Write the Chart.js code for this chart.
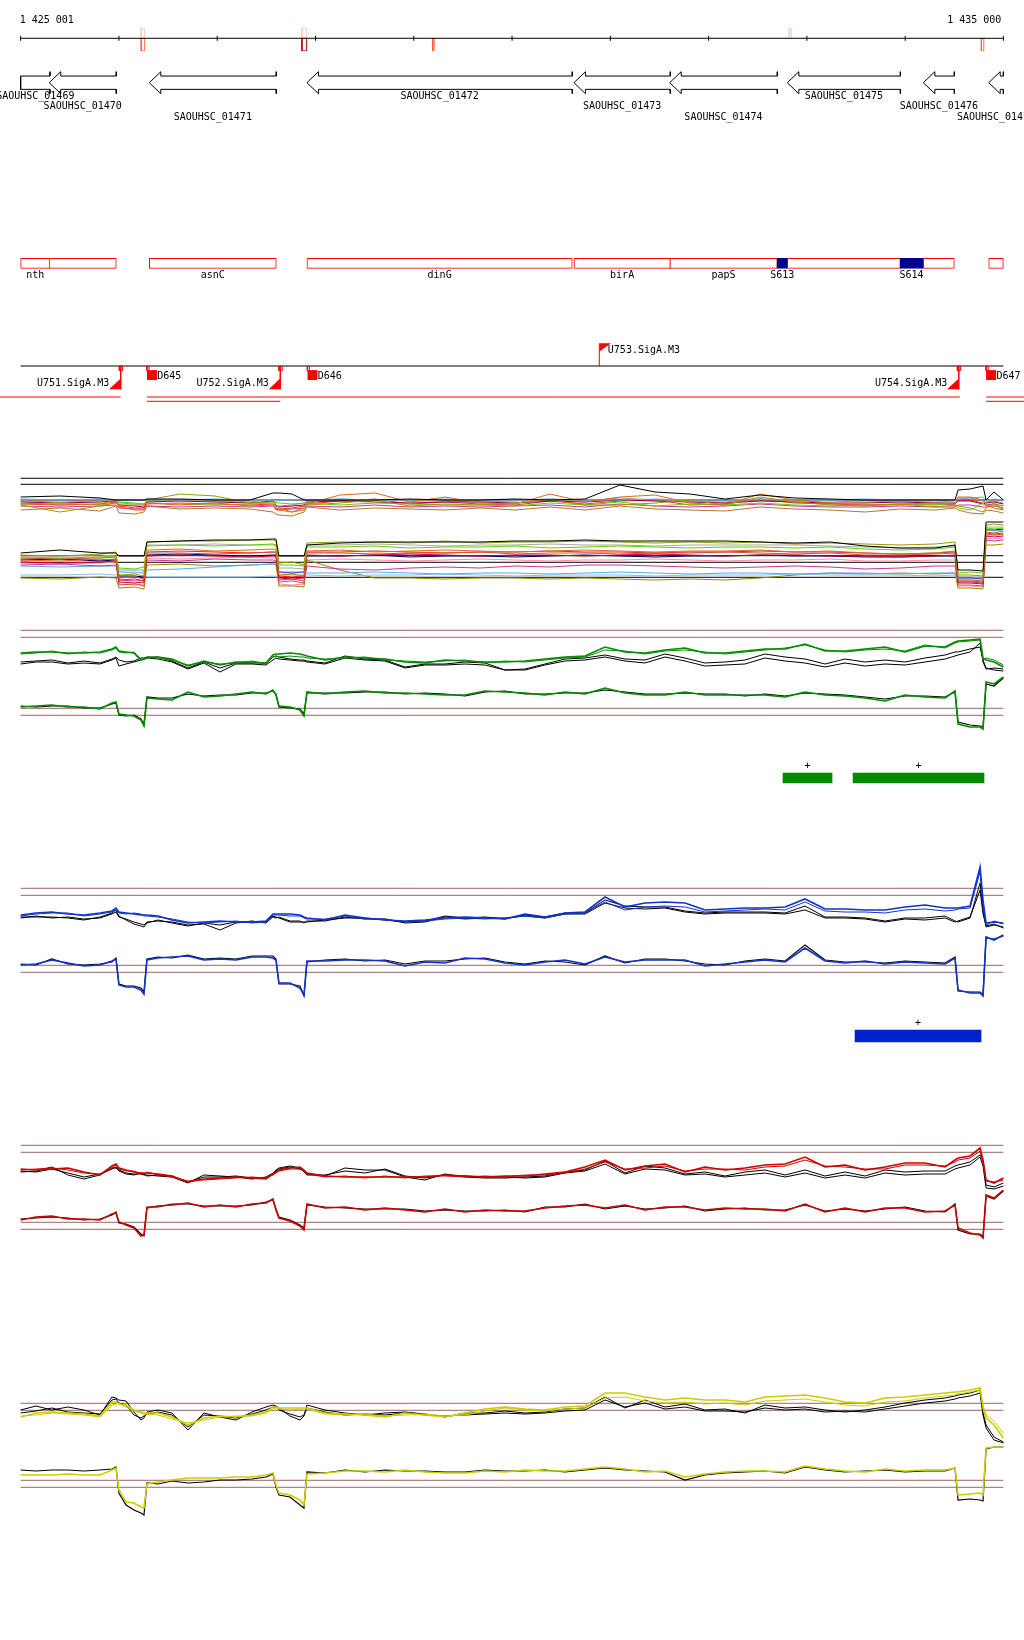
<!DOCTYPE html>
<html>
<head>
<meta charset="utf-8">
<title>SAOUHSC_01469 - SAOUHSC_01477</title>
<script src="https://cdn.jsdelivr.net/npm/chart.js@4.4.1/dist/chart.umd.min.js"></script>
<style>
  html, body { margin: 0; padding: 0; background: #ffffff; }
  #page { position: relative; width: 1024px; height: 1640px; overflow: hidden; }
  .track { position: absolute; left: 0; width: 1024px; }
</style>
</head>
<body>
<div id="page">
  <div class="track" style="top:0px;height:60px"><canvas id="ruler"></canvas></div>
  <div class="track" style="top:60px;height:70px"><canvas id="genes"></canvas></div>
  <div class="track" style="top:245px;height:40px"><canvas id="names"></canvas></div>
  <div class="track" style="top:335px;height:75px"><canvas id="promoters"></canvas></div>
  <div class="track" style="top:470px;height:125px"><canvas id="expr"></canvas></div>
  <div class="track" style="top:620px;height:120px"><canvas id="green"></canvas></div>
  <div class="track" style="top:758px;height:40px"><canvas id="greenSeg"></canvas></div>
  <div class="track" style="top:860px;height:140px"><canvas id="blue"></canvas></div>
  <div class="track" style="top:1016px;height:40px"><canvas id="blueSeg"></canvas></div>
  <div class="track" style="top:1140px;height:105px"><canvas id="red"></canvas></div>
  <div class="track" style="top:1380px;height:145px"><canvas id="yellow"></canvas></div>
</div>
<script>
// visible window of the genome
const VIEW_MIN = 1425001;
const VIEW_MAX = 1435000;
const X_MIN = VIEW_MIN - 210;
const X_MAX = VIEW_MAX + 210;
const MONO = '"DejaVu Sans Mono", "Liberation Mono", monospace';

// ruler
const rulerTicks = [1425001, 1426001, 1427001, 1428001, 1429001, 1430001, 1431001, 1432001, 1433001, 1434001, 1435000];
const markerStart = [1426228, 1427863, 1429194, 1432822, 1434776];
const markerEnd = [1426263, 1427911, 1429208, 1432843, 1434801];
const markerUp = ['#ffc8c0', '#ffc8c0', null, '#ffc8c0', null];
const markerDown = ['#ff6a4a', '#c00000', '#ff5a3a', null, '#ff6a4a'];

// genes (all on the minus strand)
const geneIds = ['SAOUHSC_01469', 'SAOUHSC_01470', 'SAOUHSC_01471', 'SAOUHSC_01472', 'SAOUHSC_01473', 'SAOUHSC_01474', 'SAOUHSC_01475', 'SAOUHSC_01476', 'SAOUHSC_01477'];
const geneNames = ['nth', '', 'asnC', 'dinG', 'birA', 'papS', '', '', ''];
const geneStart = [1424700, 1425292, 1426310, 1427914, 1430631, 1431605, 1432802, 1434186, 1434851];
const geneEnd = [1425299, 1425974, 1427602, 1430614, 1431611, 1432700, 1433952, 1434501, 1435300];

// small RNAs
const srnaNames = ['S613', 'S614'];
const srnaStart = [1432697, 1433949];
const srnaEnd = [1432802, 1434183];

// promoters and terminators
const promNames = ['U751.SigA.M3', 'U752.SigA.M3', 'U753.SigA.M3', 'U754.SigA.M3'];
const promPos = [1426019, 1427643, 1430889, 1434546];
const promStrand = [-1, -1, 1, -1];
const termNames = ['D645', 'D646', 'D647'];
const termPos = [1426286, 1427918, 1434824];
const tuStart = [X_MIN, 1426286, 1434824, 1426286, 1434824];
const tuEnd = [1426019, 1434556, X_MAX, 1427643, X_MAX];
const tuRow = [0, 0, 0, 1, 1];

// segments called per condition
const greenSegStart = [1432758, 1433471];
const greenSegEnd = [1433257, 1434803];
const blueSegStart = [1433491];
const blueSegEnd = [1434773];

// tiling expression, all conditions
const exprPos = [1425001, 1425401, 1425808, 1425971, 1426001, 1426164, 1426256, 1426286, 1426622, 1426978, 1427334, 1427568, 1427599, 1427629, 1427762, 1427884, 1427914, 1428250, 1428606, 1428962, 1429319, 1429675, 1430031, 1430387, 1430743, 1431099, 1431456, 1431812, 1432168, 1432524, 1432880, 1433236, 1433593, 1433949, 1434305, 1434508, 1434539, 1434661, 1434793, 1434824, 1434905, 1435000];
const exprRefs = [11.67, 11.07, 9.5, 3.93, 3.27, 1.77];
const exprUp1 = [9.8,9.9,9.7,9.5,9.5,9.5,9.5,9.6,9.6,9.5,9.5,10.2,10.2,10.2,10.1,9.5,9.5,9.5,9.5,9.6,9.5,9.5,9.6,9.5,9.6,11.0,10.3,10.1,9.6,10.0,9.7,9.6,9.5,9.5,9.5,9.5,10.5,10.6,10.9,9.5,10.3,9.5];
const exprUp2 = [9.0,8.3,8.9,9.2,9.0,9.0,9.0,9.5,10.1,9.9,9.2,9.3,9.0,8.7,8.3,8.5,9.0,9.2,9.5,8.9,9.1,9.0,9.2,9.5,9.0,9.0,9.2,9.5,9.0,9.8,9.3,9.0,8.9,9.1,8.8,9.0,8.9,8.7,8.3,8.7,9.2,8.5];
const exprUp3 = [9.2,9.0,9.1,9.5,8.8,8.5,8.5,9.2,9.0,9.2,8.9,9.0,8.5,8.5,8.3,8.7,9.1,10.0,10.2,9.3,9.8,9.2,9.1,10.1,9.3,9.8,10.0,9.2,9.0,10.1,9.5,9.2,9.0,9.1,9.2,9.0,9.8,9.8,9.5,9.0,8.7,8.5];
const exprUp4 = [9.1,9.2,9.0,9.2,9.3,9.2,9.1,9.2,9.1,9.0,9.1,9.2,9.3,9.2,9.1,9.2,9.2,9.0,9.2,9.1,9.0,9.0,8.9,9.2,9.0,9.3,8.9,9.1,9.0,9.2,9.0,8.9,9.0,9.0,9.1,9.0,8.7,8.5,9.2,8.9,9.0,8.6];
const exprUp5 = [9.6,9.5,9.6,9.5,9.4,9.5,9.5,9.6,9.5,9.6,9.5,9.5,9.4,9.5,9.5,9.6,9.5,9.6,9.5,9.5,9.6,9.5,9.5,9.6,9.5,9.5,9.6,9.5,9.5,9.6,9.5,9.5,9.6,9.5,9.5,9.5,9.7,9.7,9.8,9.4,9.6,9.5];
const exprUp6 = [8.9,8.8,8.9,9.0,8.7,8.6,8.6,8.9,8.8,8.9,8.8,8.9,8.6,8.5,8.6,8.7,8.9,8.8,9.0,8.8,8.9,8.8,8.9,9.0,8.8,9.1,8.9,8.8,8.9,9.1,8.9,8.8,8.8,8.9,8.8,8.8,9.0,9.0,8.8,8.8,8.9,8.7];
const exprUp7 = [9.3,9.2,9.3,9.4,9.0,8.9,8.8,9.3,9.4,9.3,9.2,9.4,8.9,8.8,8.9,9.0,9.3,9.4,9.3,9.2,9.3,9.3,9.2,9.4,9.3,9.5,9.4,9.3,9.2,9.4,9.3,9.2,9.2,9.3,9.2,9.2,9.4,9.4,9.1,9.2,9.3,9.1];
const exprUp8 = [8.5,8.7,8.4,8.9,8.2,8.1,8.3,8.9,8.6,8.7,8.6,8.3,8.1,8.0,7.9,8.3,8.8,8.5,8.7,8.6,8.5,8.7,8.5,8.8,8.5,8.9,8.6,8.5,8.4,8.8,8.6,8.5,8.3,8.6,8.5,8.7,8.5,8.2,8.1,8.5,8.4,8.2];
const exprUp9 = [9.4,9.3,9.4,9.5,9.2,9.1,9.1,9.4,9.5,9.4,9.3,9.6,9.0,8.9,9.0,9.2,9.4,9.6,9.5,9.4,9.4,9.3,9.4,9.6,9.4,9.7,9.5,9.4,9.3,9.6,9.4,9.4,9.3,9.4,9.3,9.4,9.6,9.7,9.4,9.3,9.4,9.2];
const exprUp10 = [9.1,9.0,9.1,9.3,8.9,8.7,8.7,9.1,9.2,9.1,9.0,9.1,8.7,8.6,8.7,8.9,9.1,9.4,9.6,9.1,9.3,9.1,9.0,9.4,9.1,9.4,9.5,9.0,9.1,9.6,9.2,9.1,9.0,9.1,9.0,9.1,9.5,9.5,9.2,9.0,9.1,8.9];
const exprLow1 = [4.2,4.5,4.2,4.2,3.9,3.9,3.9,5.3,5.4,5.5,5.5,5.6,5.6,3.9,3.9,3.9,5.0,5.2,5.3,5.3,5.3,5.3,5.4,5.4,5.5,5.4,5.4,5.4,5.4,5.3,5.2,5.3,4.9,4.7,4.7,5.0,2.5,2.5,2.4,7.3,7.3,7.3];
const exprLow2 = [4.0,3.9,4.1,4.3,2.0,2.1,1.9,5.3,5.4,5.4,5.5,5.5,5.4,3.2,3.3,3.0,5.2,5.3,5.3,5.2,5.4,5.2,5.3,5.3,5.4,5.3,5.2,5.3,5.2,5.3,5.1,5.2,5.1,5.0,5.1,5.3,2.0,2.0,1.9,7.0,7.1,7.0];
const exprLow3 = [3.8,3.7,3.8,3.9,2.7,2.6,2.8,4.9,5.0,4.9,5.0,5.1,5.0,3.0,3.0,2.9,4.8,4.8,4.9,4.7,4.8,4.8,4.9,4.7,4.8,4.9,4.8,4.7,4.8,4.8,4.7,4.8,4.6,4.5,4.6,4.8,2.2,2.3,2.2,6.7,6.6,6.7];
const exprLow4 = [3.5,3.4,3.6,3.5,1.7,1.8,1.6,4.5,4.6,4.4,4.5,4.6,4.5,2.0,2.1,1.9,4.4,4.5,4.3,4.4,4.5,4.4,4.3,4.4,4.5,4.4,4.3,4.4,4.4,4.5,4.3,4.4,4.2,4.1,4.2,4.4,1.5,1.5,1.4,6.3,6.2,6.4];
const exprLow5 = [3.3,3.2,3.3,3.4,1.3,1.2,1.3,3.9,4.0,3.9,3.8,3.9,3.9,1.7,1.6,1.7,4.0,3.9,4.0,4.1,4.0,3.9,4.0,4.0,3.9,4.0,4.1,4.0,3.9,4.0,4.0,3.9,3.9,3.8,3.9,4.0,1.2,1.2,1.1,5.9,5.8,5.9];
const exprLow6 = [3.7,3.6,3.7,3.8,1.0,1.1,0.9,4.2,4.2,4.1,4.2,4.3,4.2,1.3,1.4,1.2,4.2,4.2,4.1,4.2,4.2,4.3,4.1,4.2,4.2,4.1,4.2,4.2,4.3,4.2,4.1,4.2,4.0,4.0,4.1,4.2,1.0,1.0,0.9,6.1,6.0,6.1];
const exprLow7 = [3.0,3.1,2.9,3.0,1.5,1.4,1.5,3.5,3.4,3.6,3.5,3.5,3.4,1.5,1.6,1.4,2.9,2.6,2.5,2.7,2.8,2.7,2.9,2.8,3.0,3.0,2.9,2.8,2.7,2.8,2.9,2.8,2.6,2.7,2.9,2.9,1.3,1.3,1.2,5.5,5.4,5.5];
const exprLow8 = [2.9,2.8,2.9,2.9,2.5,2.5,2.5,2.5,2.6,2.8,3.0,3.1,3.1,2.3,2.3,2.3,2.2,2.2,2.3,2.2,2.1,2.2,2.2,2.1,2.2,2.3,2.2,2.1,2.2,2.2,2.1,2.2,2.2,2.1,2.2,2.2,1.7,1.7,1.7,6.5,6.4,6.5];
const exprLow9 = [2.0,2.0,2.1,2.0,2.3,2.3,2.2,1.8,1.8,1.8,1.8,1.9,1.8,2.0,2.0,2.0,2.0,1.9,2.0,2.0,2.1,2.0,1.9,2.0,2.0,2.0,1.9,2.0,2.0,2.0,2.1,2.0,2.0,2.0,1.9,2.0,1.5,1.5,1.5,6.0,6.0,6.0];
const exprLow10 = [1.7,1.6,1.8,1.7,0.7,0.8,0.6,3.0,3.1,2.9,3.0,3.1,3.0,0.9,0.9,0.8,3.5,2.5,1.7,1.7,1.6,1.7,1.7,1.6,1.7,1.6,1.5,1.6,1.5,1.7,2.0,2.2,2.1,2.2,2.1,2.2,0.7,0.7,0.6,5.0,5.0,5.1];
const exprLow11 = [3.5,3.6,3.4,3.5,1.9,1.9,1.8,4.0,4.1,4.0,3.9,4.0,4.0,2.3,2.2,2.3,3.9,3.9,4.0,3.8,3.9,3.9,3.8,3.9,4.0,3.9,3.8,3.9,3.9,4.0,3.9,3.9,3.8,3.8,3.9,3.9,1.7,1.7,1.6,6.5,6.5,6.6];
const exprLow12 = [3.9,3.9,4.0,3.9,2.3,2.2,2.3,5.0,5.0,5.1,5.0,5.0,4.9,2.7,2.7,2.6,5.0,5.0,5.1,5.0,4.9,5.0,5.0,5.1,5.0,5.0,4.9,5.0,5.0,5.0,5.0,4.9,4.8,4.7,4.8,4.9,1.8,1.8,1.7,6.8,6.8,6.8];
const exprLow13 = [3.2,3.1,3.2,3.3,1.1,1.0,1.1,3.7,3.6,3.7,3.8,3.7,3.7,1.1,1.0,1.1,3.5,3.6,3.5,3.4,3.5,3.6,3.5,3.4,3.5,3.5,3.6,3.5,3.4,3.5,3.5,3.6,3.4,3.4,3.5,3.5,0.9,0.9,0.8,5.7,5.6,5.7];
const exprLow14 = [3.6,3.6,3.5,3.6,1.5,1.6,1.4,4.3,4.4,4.3,4.2,4.3,4.3,1.9,1.8,1.9,4.3,4.3,4.4,4.3,4.2,4.3,4.3,4.4,4.3,4.3,4.2,4.3,4.3,4.4,4.3,4.3,4.2,4.1,4.2,4.3,1.4,1.4,1.3,6.2,6.1,6.2];
const exprUpColors = ['#000000', '#999900', '#e0661a', '#66cc00', '#66aaee', '#cc3399', '#990033', '#b8742a', '#999999', '#ee3333'];
const exprLowColors = ['#000000', '#999900', '#66cc00', '#e0661a', '#cc0033', '#cc5533', '#cc3399', '#55aaee', '#88bbee', '#998800', '#000066', '#aaaaaa', '#ff88aa', '#ee2222'];

// per-condition profiles (upper = plus strand, lower = minus strand)
const condPos = [1425001, 1425157, 1425319, 1425482, 1425645, 1425808, 1425930, 1425971, 1426001, 1426073, 1426154, 1426225, 1426256, 1426286, 1426398, 1426541, 1426703, 1426866, 1427029, 1427192, 1427355, 1427497, 1427568, 1427599, 1427629, 1427741, 1427843, 1427884, 1427914, 1428098, 1428301, 1428505, 1428708, 1428912, 1429115, 1429319, 1429522, 1429726, 1429929, 1430133, 1430336, 1430540, 1430743, 1430947, 1431150, 1431354, 1431557, 1431761, 1431964, 1432168, 1432371, 1432575, 1432779, 1432982, 1433186, 1433389, 1433593, 1433796, 1433999, 1434203, 1434407, 1434508, 1434539, 1434661, 1434763, 1434793, 1434824, 1434905, 1435000];

const grnRefs = [10.97, 10.27, 3.17, 2.47];
const grnUp1 = [8.7,8.8,8.8,8.7,8.7,8.8,9.1,9.3,8.9,8.8,8.7,8.0,8.1,8.2,8.3,8.1,7.4,7.9,7.5,7.8,7.8,7.7,8.5,8.6,8.6,8.7,8.6,8.5,8.4,8.0,8.3,8.2,8.1,7.8,7.7,8.0,7.9,7.8,7.8,7.9,8.1,8.3,8.4,9.3,8.8,8.7,9.0,9.2,8.7,8.7,8.9,9.1,9.1,9.6,8.9,8.9,9.1,9.3,8.8,9.4,9.3,9.8,9.9,10.0,10.1,8.2,8.0,7.8,7.3];
const grnUp2 = [8.6,8.7,8.9,8.6,8.8,8.7,9.0,9.2,8.8,8.7,8.8,8.1,8.0,8.3,8.2,8.0,7.5,7.8,7.6,7.7,7.9,7.6,8.3,8.4,8.3,8.4,8.3,8.3,8.2,8.1,8.2,8.3,8.0,7.9,7.8,7.9,8.0,7.7,7.9,7.8,8.0,8.2,8.3,9.0,8.9,8.6,8.9,9.0,8.8,8.6,8.8,9.0,9.2,9.5,9.0,8.8,9.0,9.1,8.9,9.5,9.2,9.7,9.8,9.9,10.0,8.0,8.2,8.0,7.5];
const grnUpBlk1 = [7.8,7.9,8.0,7.7,7.9,7.7,8.1,8.3,8.0,7.8,7.9,8.2,8.2,8.3,8.3,7.9,7.2,7.8,7.2,7.7,7.7,7.7,8.3,8.4,8.3,8.1,8.0,8.0,7.9,7.7,8.4,8.1,8.0,7.3,7.6,7.6,7.8,7.7,7.0,7.1,7.6,8.1,8.2,8.5,8.1,8.0,8.6,8.2,7.7,7.8,8.0,8.6,8.3,8.1,7.6,8.1,7.8,8.0,7.8,8.2,8.5,8.8,8.8,9.1,9.3,8.0,7.2,7.0,6.9];
const grnUpBlk2 = [7.6,7.8,7.8,7.6,7.7,7.6,8.0,8.2,7.4,7.6,7.8,8.0,8.1,8.2,8.1,7.8,7.1,7.7,6.8,7.6,7.6,7.5,8.0,8.2,8.1,8.0,7.9,7.9,7.8,7.6,8.2,8.0,7.9,7.2,7.5,7.5,7.6,7.5,7.0,7.0,7.5,7.9,8.0,8.3,7.9,7.7,8.3,7.9,7.4,7.5,7.6,8.2,7.9,7.7,7.3,7.7,7.4,7.6,7.5,7.8,8.1,8.4,8.5,8.8,9.7,7.8,7.1,7.2,7.1];
const grnLow = [3.3,3.4,3.5,3.3,3.3,3.1,3.7,3.8,2.6,2.5,2.4,2.0,1.4,4.2,4.1,4.0,4.8,4.3,4.4,4.6,4.8,4.6,5.0,4.5,3.4,3.3,3.0,2.4,4.8,4.6,4.8,4.9,4.7,4.7,4.6,4.5,4.5,4.9,4.8,4.7,4.5,4.8,4.6,5.2,4.7,4.5,4.5,4.8,4.5,4.5,4.5,4.5,4.3,4.8,4.5,4.4,4.2,3.9,4.5,4.3,4.2,4.9,1.6,1.3,1.3,1.1,5.8,5.6,6.3];
const grnLowBlk = [3.4,3.3,3.4,3.4,3.2,3.2,3.6,3.7,2.5,2.4,2.5,2.1,1.6,4.3,4.2,4.2,4.6,4.4,4.5,4.5,4.7,4.7,4.9,4.6,3.3,3.2,3.1,2.6,4.7,4.7,4.7,4.8,4.8,4.6,4.7,4.6,4.4,4.8,4.9,4.6,4.6,4.7,4.7,5.0,4.8,4.6,4.6,4.7,4.6,4.6,4.4,4.6,4.4,4.7,4.6,4.5,4.3,4.1,4.4,4.4,4.3,4.8,1.8,1.5,1.4,1.3,5.6,5.4,6.2];

const bluRefs = [11.17, 10.47, 3.47, 2.77];
const bluUp1 = [8.5,8.7,8.8,8.6,8.5,8.7,8.9,9.2,8.8,8.7,8.6,8.5,8.5,8.5,8.4,8.0,7.7,7.8,7.9,7.8,7.8,7.9,8.6,8.6,8.6,8.6,8.5,8.3,8.2,8.0,8.5,8.2,8.0,7.9,8.0,8.2,8.3,8.2,8.1,8.6,8.3,8.7,8.8,10.3,9.3,9.7,9.8,9.7,9.0,9.1,9.2,9.2,9.3,10.1,9.1,9.1,9.0,9.0,9.3,9.5,9.2,9.2,9.2,9.4,13.3,10.0,7.7,7.8,7.7];
const bluUp2 = [8.4,8.6,8.7,8.7,8.4,8.6,8.8,9.0,8.7,8.6,8.7,8.6,8.4,8.4,8.3,8.1,7.8,7.7,7.8,7.9,7.7,7.8,8.5,8.5,8.5,8.4,8.4,8.2,8.1,8.1,8.4,8.1,8.1,7.8,7.9,8.1,8.2,8.1,8.2,8.4,8.2,8.6,8.7,9.8,9.0,9.3,9.4,9.3,8.8,8.9,9.0,9.1,9.0,9.8,8.9,8.8,8.8,8.7,9.0,9.1,8.9,9.0,9.1,9.2,12.8,9.4,7.5,7.9,7.6];
const bluUpBlk1 = [8.3,8.3,8.3,8.2,8.0,8.3,8.7,9.0,8.4,8.0,7.6,7.4,7.3,7.7,8.0,7.7,7.4,7.7,7.5,7.8,7.8,7.8,8.4,8.3,8.2,7.8,7.8,7.8,7.8,8.0,8.2,8.2,8.0,7.8,7.9,8.4,8.2,8.3,8.1,8.5,8.3,8.7,8.7,10.0,9.4,9.3,9.3,8.9,8.7,8.8,8.8,8.8,8.7,9.4,8.3,8.3,8.2,7.9,8.2,8.2,8.4,7.9,7.8,8.2,11.7,9.0,7.3,7.5,7.3];
const bluUpBlk2 = [8.2,8.4,8.2,8.3,8.1,8.2,8.6,8.8,8.3,8.1,7.8,7.6,7.5,7.8,7.9,7.8,7.5,7.6,7.0,7.7,7.9,7.7,8.3,8.2,8.3,7.9,7.9,7.7,7.9,7.9,8.3,8.1,8.1,7.7,7.8,8.3,8.1,8.2,8.2,8.4,8.2,8.6,8.6,9.7,9.2,9.1,9.2,8.8,8.6,8.7,8.7,8.7,8.6,9.0,8.2,8.2,8.1,7.8,8.1,8.0,8.2,7.8,7.9,8.3,11.0,8.6,7.4,7.6,7.2];
const bluLow = [3.5,3.6,4.0,3.7,3.4,3.5,3.9,4.1,1.5,1.3,1.3,1.0,0.6,4.0,4.2,4.3,4.4,4.0,4.1,4.0,4.3,4.3,4.2,4.0,1.7,1.7,1.2,0.5,3.9,3.9,4.0,4.0,3.9,3.4,3.8,3.7,4.2,4.1,3.7,3.5,3.8,4.0,3.6,4.3,3.8,4.0,4.0,4.0,3.4,3.6,3.8,4.0,3.8,5.2,3.9,3.7,3.9,3.6,3.8,3.7,3.6,4.2,1.0,0.7,0.7,0.4,6.3,6.0,6.5];
const bluLowBlk = [3.6,3.5,4.1,3.6,3.5,3.6,3.8,4.2,1.6,1.4,1.4,1.2,0.8,4.1,4.3,4.2,4.5,4.1,4.2,4.1,4.4,4.4,4.4,4.1,1.6,1.6,1.4,0.4,3.8,4.0,4.1,3.9,4.0,3.6,3.9,3.9,4.1,4.2,3.8,3.6,3.9,3.8,3.5,4.4,3.7,4.1,4.1,3.9,3.6,3.5,3.9,4.1,3.9,5.5,4.0,3.8,3.8,3.7,3.9,3.8,3.7,4.3,0.9,0.8,0.8,0.5,6.2,6.1,6.4];

const redRefs = [9.97, 9.27, 2.27, 1.57];
const redUp1 = [7.6,7.5,7.6,7.7,7.3,7.0,7.9,8.1,7.7,7.5,7.3,7.2,7.2,7.2,7.1,6.9,6.3,6.6,6.7,6.8,6.7,6.6,7.1,7.3,7.5,7.7,7.8,7.5,7.2,6.9,6.8,6.8,6.8,6.8,6.8,7.0,6.9,6.8,6.9,6.9,7.1,7.3,7.8,8.5,7.5,7.9,8.1,7.3,7.8,7.5,7.7,8.0,8.1,8.8,7.8,8.0,7.5,7.8,8.2,8.2,7.8,8.5,8.7,8.9,9.7,8.5,6.5,6.2,6.7];
const redUp2 = [7.5,7.6,7.7,7.5,7.2,7.1,7.7,8.0,7.6,7.4,7.4,7.1,7.1,7.3,7.0,6.8,6.4,6.5,6.6,6.7,6.8,6.7,7.0,7.2,7.4,7.6,7.6,7.4,7.1,6.8,6.9,6.7,6.9,6.7,6.9,6.9,6.8,6.9,6.8,7.0,7.0,7.2,7.6,8.3,7.6,7.7,7.9,7.4,7.6,7.6,7.5,7.8,7.9,8.5,7.9,7.8,7.6,7.6,8.0,8.0,7.9,8.3,8.5,8.7,9.4,8.2,6.4,6.3,6.5];
const redUpBlk1 = [7.3,7.4,7.8,7.0,6.6,7.0,7.7,7.7,7.5,7.2,7.1,7.1,7.0,7.0,6.9,6.8,6.2,7.0,6.9,6.8,6.6,6.8,7.2,7.5,7.7,7.9,7.7,7.3,7.1,6.9,7.7,7.5,7.5,6.8,6.5,7.1,6.8,6.7,6.7,6.8,6.9,7.3,7.5,8.4,7.2,7.9,7.7,7.1,7.3,6.9,7.3,7.5,7.0,7.5,6.9,7.3,6.9,7.5,7.3,7.4,7.4,7.9,8.0,8.3,9.0,8.5,6.0,5.8,6.2];
const redUpBlk2 = [7.4,7.3,7.6,7.2,6.8,7.1,7.6,7.8,7.4,7.1,7.0,7.2,7.1,6.9,7.0,6.9,6.3,6.8,6.8,6.9,6.7,6.7,7.1,7.4,7.6,7.8,7.6,7.4,7.0,7.0,7.4,7.2,7.6,6.9,6.7,7.0,6.9,6.8,6.8,6.7,6.8,7.2,7.4,8.1,7.1,7.6,7.5,7.0,7.1,6.8,7.0,7.2,6.8,7.2,6.7,7.0,6.7,7.2,7.0,7.1,7.1,7.6,7.7,8.0,8.8,7.9,5.7,5.6,5.9];
const redLow = [2.5,2.8,2.9,2.6,2.6,2.5,3.1,3.2,2.3,2.0,1.7,0.9,1.0,3.7,3.9,4.0,4.2,3.8,4.0,3.8,4.1,4.2,4.6,3.5,2.7,2.4,1.9,1.5,4.1,3.7,3.8,3.5,3.7,3.5,3.3,3.6,3.3,3.5,3.4,3.4,3.7,3.9,4.0,3.7,4.0,3.5,3.8,3.8,3.5,3.7,3.6,3.6,3.4,4.1,3.3,3.7,3.3,3.7,3.7,3.3,3.4,4.0,1.7,1.2,1.0,0.7,5.0,4.7,5.5];
const redLowBlk = [2.6,2.7,2.8,2.7,2.5,2.6,3.0,3.3,2.2,2.1,1.8,1.1,0.9,3.8,3.8,4.1,4.1,3.9,3.9,3.9,4.0,4.3,4.5,3.6,2.8,2.5,2.0,1.7,4.0,3.8,3.7,3.6,3.6,3.6,3.4,3.5,3.4,3.4,3.5,3.3,3.8,3.8,4.1,3.6,3.9,3.6,3.7,3.9,3.4,3.6,3.7,3.5,3.5,4.0,3.4,3.6,3.4,3.6,3.8,3.4,3.3,4.1,1.5,1.1,1.1,0.8,4.9,4.6,5.4];

const yelRefs = [12.17, 11.47, 4.47, 3.77];
const yelUp1 = [10.8,11.2,11.3,11.2,11.1,10.9,12.3,12.3,12.1,12.0,11.5,11.3,11.2,11.2,11.2,10.8,10.0,10.7,10.9,10.8,11.0,11.3,11.8,11.8,11.7,11.7,11.7,11.7,11.7,11.2,11.1,11.0,10.8,11.2,11.0,10.8,11.2,11.6,11.8,11.6,11.5,11.8,11.9,13.2,13.2,12.8,12.5,12.7,12.5,12.5,12.3,12.8,12.9,13.0,12.7,12.3,12.2,12.7,12.8,13.0,13.2,13.3,13.3,13.5,13.7,11.7,10.7,10.0,8.7];
const yelUp2 = [10.9,11.0,11.2,11.1,11.0,10.8,12.0,12.1,12.2,11.8,11.4,11.2,11.0,11.1,11.0,10.6,10.2,10.5,10.8,10.9,10.9,11.2,11.6,11.7,11.6,11.5,11.6,11.5,11.6,11.1,11.0,11.1,10.9,11.0,11.1,10.9,11.0,11.4,11.7,11.5,11.4,11.6,11.7,12.7,12.8,12.4,12.2,12.3,12.1,12.2,12.0,12.4,12.5,12.6,12.3,12.0,11.9,12.3,12.4,12.7,12.9,13.0,13.1,13.3,13.5,12.0,11.0,10.4,9.2];
const yelUpBlk1 = [11.5,11.9,11.5,11.8,11.5,11.0,12.8,12.7,12.5,12.4,11.3,10.5,10.7,11.3,11.5,11.2,9.5,11.2,10.8,10.5,11.3,11.8,12.0,11.9,11.7,10.9,10.5,10.9,12.0,11.5,11.2,11.0,11.2,11.3,11.1,10.8,11.2,11.2,11.4,11.2,11.3,11.6,11.7,12.8,11.7,12.5,11.8,12.1,11.5,11.6,11.2,12.0,11.7,11.8,11.5,11.3,11.5,11.8,12.2,12.5,12.7,12.9,13.0,13.2,13.5,11.2,10.0,8.8,8.3];
const yelUpBlk2 = [11.2,11.4,11.7,11.3,11.2,11.1,12.5,12.6,12.2,12.0,11.0,10.7,10.9,11.1,11.3,11.0,9.8,11.0,10.9,10.7,11.1,11.5,11.8,11.8,11.5,11.1,10.8,11.0,11.7,11.3,11.0,11.1,11.0,11.2,11.0,10.9,11.0,11.1,11.2,11.1,11.2,11.4,11.5,12.5,11.8,12.2,11.6,11.8,11.4,11.4,11.3,11.7,11.5,11.6,11.3,11.4,11.3,11.6,11.9,12.2,12.4,12.6,12.7,12.9,13.2,11.0,9.7,8.5,8.2];
const yelLow = [5.0,5.0,5.0,5.1,5.0,5.0,5.5,5.7,3.5,2.3,2.2,1.8,1.7,4.1,4.3,4.5,4.7,4.7,4.7,4.8,4.8,5.0,5.2,4.0,3.2,3.0,2.5,2.0,5.1,5.2,5.4,5.4,5.3,5.5,5.3,5.2,5.2,5.4,5.3,5.5,5.4,5.4,5.6,5.8,5.6,5.3,5.4,4.8,5.1,5.3,5.4,5.4,5.3,5.9,5.6,5.4,5.3,5.6,5.4,5.5,5.5,5.7,3.0,3.1,3.2,3.0,7.7,7.8,7.8];
const yelLowBlk = [5.5,5.4,5.5,5.5,5.4,5.5,5.6,5.8,3.2,2.0,1.5,1.2,1.0,4.2,4.1,4.4,4.2,4.3,4.5,4.5,4.6,4.8,5.1,3.8,3.0,2.8,2.0,1.7,5.3,5.2,5.5,5.3,5.5,5.4,5.4,5.3,5.3,5.5,5.4,5.4,5.5,5.3,5.5,5.7,5.5,5.4,5.3,4.5,5.0,5.2,5.3,5.4,5.2,5.8,5.5,5.3,5.4,5.5,5.3,5.4,5.4,5.7,2.5,2.6,2.5,2.4,7.6,7.8,7.8];

const REF_COLOR = '#9c6464';
const HEAD_BP = 117;
const FLAG_BP = 112;
const TERM_BP = 105;

Chart.defaults.animation = false;
Chart.defaults.events = [];
Chart.defaults.plugins.legend.display = false;
Chart.defaults.plugins.tooltip.enabled = false;
Chart.defaults.font.family = MONO;

function fmtPos(v) {
    return String(Math.round(v)).replace(/\B(?=(\d{3})+(?!\d))/g, ' ');
}

function xy(pos, vals) {
    return pos.map((x, i) => ({ x: x, y: vals[i] }));
}

function rect(s, e, lo, hi) {
    return [{ x: s, y: lo }, { x: e, y: lo }, { x: e, y: hi }, { x: s, y: hi }, { x: s, y: lo }];
}

function lineDs(data, color, width, order) {
    return {
        data: data,
        borderColor: color,
        borderWidth: width,
        pointRadius: 0,
        fill: false,
        tension: 0,
        order: order || 0
    };
}

function filledDs(data, color, toValue) {
    return {
        data: data,
        borderColor: color,
        backgroundColor: color,
        borderWidth: 1,
        pointRadius: 0,
        tension: 0,
        fill: { value: toValue }
    };
}

function hline(v, color) {
    return lineDs([{ x: VIEW_MIN, y: v }, { x: VIEW_MAX, y: v }], color, 1, 10);
}

// text drawn at genome position through the chart scales
function textPlugin(items) {
    return {
        id: 'trackText',
        afterDatasetsDraw(chart) {
            const ctx = chart.ctx;
            ctx.save();
            ctx.font = '10px ' + MONO;
            ctx.fillStyle = '#000';
            ctx.textBaseline = 'middle';
            items.forEach(it => {
                ctx.textAlign = it.align || 'center';
                const px = chart.scales.x.getPixelForValue(it.x) + (it.dx || 0);
                const py = chart.scales.y.getPixelForValue(it.y) + (it.dy || 0);
                ctx.fillText(it.text, px, py);
            });
            ctx.restore();
        }
    };
}

function lineChart(id, yMin, yMax, datasets, plugins, opts) {
    opts = opts || {};
    return new Chart(document.getElementById(id), {
        type: 'line',
        data: { datasets: datasets },
        options: {
            responsive: true,
            maintainAspectRatio: false,
            layout: { autoPadding: false, padding: opts.padding || 0 },
            elements: { point: { radius: 0 }, line: { tension: 0 } },
            scales: {
                x: { type: 'linear', min: X_MIN, max: X_MAX, display: false },
                y: { type: 'linear', min: yMin, max: yMax, display: false }
            }
        },
        plugins: plugins || []
    });
}

function segChart(id, starts, ends, color, thickness, labelDy) {
    const datasets = starts.map((s, i) => ({
        data: [[s, ends[i]]],
        backgroundColor: color,
        borderColor: color,
        borderWidth: 0,
        barThickness: thickness,
        grouped: false
    }));
    const labels = starts.map((s, i) => ({ x: (s + ends[i]) / 2, y: 0, dy: labelDy, text: '+' }));
    return new Chart(document.getElementById(id), {
        type: 'bar',
        data: { labels: ['seg'], datasets: datasets },
        options: {
            indexAxis: 'y',
            responsive: true,
            maintainAspectRatio: false,
            layout: { autoPadding: false },
            scales: {
                x: { type: 'linear', min: X_MIN, max: X_MAX, display: false },
                y: { type: 'category', display: false }
            }
        },
        plugins: [textPlugin(labels)]
    });
}

// ---- ruler ----
function initRuler() {
    const ds = [
        lineDs([{ x: VIEW_MIN, y: 0 }, { x: VIEW_MAX, y: 0 }], '#000', 1),
        {
            data: rulerTicks.map(v => ({ x: v, y: 0 })),
            showLine: false,
            pointStyle: 'line',
            pointRadius: 2.5,
            pointRotation: 90,
            pointBorderColor: '#000',
            pointBorderWidth: 1
        }
    ];
    markerStart.forEach((s, i) => {
        if (markerUp[i]) ds.push(lineDs(rect(s, markerEnd[i], 0, 0.77), markerUp[i], 1));
        if (markerDown[i]) ds.push(lineDs(rect(s, markerEnd[i], -0.97, 0), markerDown[i], 1));
    });
    const first = rulerTicks[0], last = rulerTicks[rulerTicks.length - 1];
    const labels = [
        { x: first, y: 1.41, dx: -1, align: 'left', text: fmtPos(first) },
        { x: last, y: 1.41, dx: -2, align: 'right', text: fmtPos(last) }
    ];
    lineChart('ruler', -1, 1, ds, [textPlugin(labels)], { padding: { top: 25.3, bottom: 8.7 } });
}

// ---- gene arrows ----
function initGenes() {
    const yc = 4.73, h = 0.665, H = 1.1;
    const rowY = [3.33, 2.35, 1.3];
    const ds = [];
    const labels = [];
    geneStart.forEach((s, i) => {
        const e = geneEnd[i];
        const right = Math.min(e, VIEW_MAX);
        const left = Math.max(s, VIEW_MIN);
        let pts;
        if (s >= VIEW_MIN) {
            const hb = s + HEAD_BP;
            pts = [{ x: right, y: yc + H }, { x: right, y: yc + h }, { x: hb, y: yc + h }, { x: hb, y: yc + H },
                   { x: s, y: yc }, { x: hb, y: yc - H }, { x: hb, y: yc - h }, { x: right, y: yc - h }, { x: right, y: yc - H }];
        } else {
            pts = [{ x: right, y: yc + H }, { x: right, y: yc + h }, { x: left, y: yc + h },
                   { x: left, y: yc - h }, { x: right, y: yc - h }, { x: right, y: yc - H }];
        }
        ds.push(lineDs(pts, '#000', 1));
        labels.push({ x: (left + right) / 2, y: rowY[i % 3], text: geneIds[i] });
    });
    lineChart('genes', 0, 7, ds, [textPlugin(labels)]);
}

// ---- gene name boxes ----
function initNames() {
    const datasets = [];
    const labels = [];
    srnaStart.forEach((s, i) => {
        datasets.push({ data: [[s, srnaEnd[i]]], backgroundColor: '#000088', borderColor: '#000088', borderWidth: 1, borderSkipped: false, barThickness: 10, grouped: false });
        labels.push({ x: (s + srnaEnd[i]) / 2, y: 0, dy: 11.7, text: srnaNames[i] });
    });
    geneStart.forEach((s, i) => {
        const left = Math.max(s, VIEW_MIN), right = Math.min(geneEnd[i], VIEW_MAX);
        datasets.push({ data: [[left, right]], backgroundColor: '#ffffff', borderColor: '#ff0000', borderWidth: 1, borderSkipped: false, barThickness: 10, grouped: false });
        if (geneNames[i]) labels.push({ x: (left + right) / 2, y: 0, dy: 11.7, text: geneNames[i] });
    });
    new Chart(document.getElementById('names'), {
        type: 'bar',
        data: { labels: ['genes'], datasets: datasets },
        options: {
            indexAxis: 'y',
            responsive: true,
            maintainAspectRatio: false,
            layout: { autoPadding: false, padding: { bottom: 3.4 } },
            scales: {
                x: { type: 'linear', min: X_MIN, max: X_MAX, display: false },
                y: { type: 'category', display: false }
            }
        },
        plugins: [textPlugin(labels)]
    });
}

// ---- promoters / terminators ----
function initPromoters() {
    const axisY = 4.4;
    const red = '#ff0000';
    const ds = [lineDs([{ x: VIEW_MIN, y: axisY }, { x: VIEW_MAX, y: axisY }], '#000', 1, 5)];
    const labels = [];
    promPos.forEach((p, i) => {
        if (promStrand[i] > 0) {
            ds.push(lineDs([{ x: p, y: axisY }, { x: p, y: 6.67 }], red, 1));
            ds.push(filledDs([{ x: p, y: 5.9 }, { x: p + FLAG_BP, y: 6.67 }], red, 6.67));
            labels.push({ x: p, dx: 8.5, y: 5.97, align: 'left', text: promNames[i] });
        } else {
            ds.push(lineDs([{ x: p, y: axisY }, { x: p, y: 2.07 }], red, 1));
            ds.push(filledDs([{ x: p - FLAG_BP, y: 2.07 }, { x: p, y: 3.1 }], red, 2.07));
            ds.push(lineDs(rect(p - 14, p + 20, 3.95, axisY), red, 1));
            labels.push({ x: p, dx: -11.5, y: 2.67, align: 'right', text: promNames[i] });
        }
    });
    termPos.forEach((t, i) => {
        ds.push(filledDs([{ x: t, y: 3.93 }, { x: t + TERM_BP, y: 3.93 }], red, 3.0));
        ds.push(lineDs(rect(t, t + 22, 3.93, axisY), red, 1));
        labels.push({ x: t + TERM_BP, y: 3.4, align: 'left', text: termNames[i] });
    });
    const rowY = [1.3, 0.87];
    tuStart.forEach((s, i) => {
        ds.push(lineDs([{ x: s, y: rowY[tuRow[i]] }, { x: tuEnd[i], y: rowY[tuRow[i]] }], red, 1));
    });
    lineChart('promoters', 0, 7.5, ds, [textPlugin(labels)]);
}

// ---- expression of all conditions ----
function initExpr() {
    const ups = [exprUp1, exprUp2, exprUp3, exprUp4, exprUp5, exprUp6, exprUp7, exprUp8, exprUp9, exprUp10];
    const lows = [exprLow1, exprLow2, exprLow3, exprLow4, exprLow5, exprLow6, exprLow7, exprLow8, exprLow9, exprLow10, exprLow11, exprLow12, exprLow13, exprLow14];
    const ds = [];
    ups.forEach((v, i) => ds.push(lineDs(xy(exprPos, v), exprUpColors[i], 1)));
    lows.forEach((v, i) => ds.push(lineDs(xy(exprPos, v), exprLowColors[i], 1)));
    exprRefs.forEach(v => ds.push(hline(v, '#000')));
    lineChart('expr', 0, 12.5, ds);
}

// ---- one condition ----
function condTrack(id, yMax, color, up1, up2, upBlk1, upBlk2, low, lowBlk, refs) {
    const ds = [
        lineDs(xy(condPos, up1), color, 1.6),
        lineDs(xy(condPos, up2), color, 1),
        lineDs(xy(condPos, low), color, 1.6),
        lineDs(xy(condPos, upBlk1), '#000', 1, 1),
        lineDs(xy(condPos, upBlk2), '#000', 1, 1),
        lineDs(xy(condPos, lowBlk), '#000', 1.2, 1)
    ];
    refs.forEach(v => ds.push(hline(v, REF_COLOR)));
    lineChart(id, 0, yMax, ds);
}

window.addEventListener('load', () => {
    initRuler();
    initGenes();
    initNames();
    initPromoters();
    initExpr();
    condTrack('green', 12, '#008c00', grnUp1, grnUp2, grnUpBlk1, grnUpBlk2, grnLow, grnLowBlk, grnRefs);
    segChart('greenSeg', greenSegStart, greenSegEnd, '#008800', 10, -12);
    condTrack('blue', 14, '#1133cc', bluUp1, bluUp2, bluUpBlk1, bluUpBlk2, bluLow, bluLowBlk, bluRefs);
    segChart('blueSeg', blueSegStart, blueSegEnd, '#0022cc', 12, -12.5);
    condTrack('red', 10.5, '#cc0000', redUp1, redUp2, redUpBlk1, redUpBlk2, redLow, redLowBlk, redRefs);
    condTrack('yellow', 14.5, '#cccc00', yelUp1, yelUp2, yelUpBlk1, yelUpBlk2, yelLow, yelLowBlk, yelRefs);
});
</script>
</body>
</html>
